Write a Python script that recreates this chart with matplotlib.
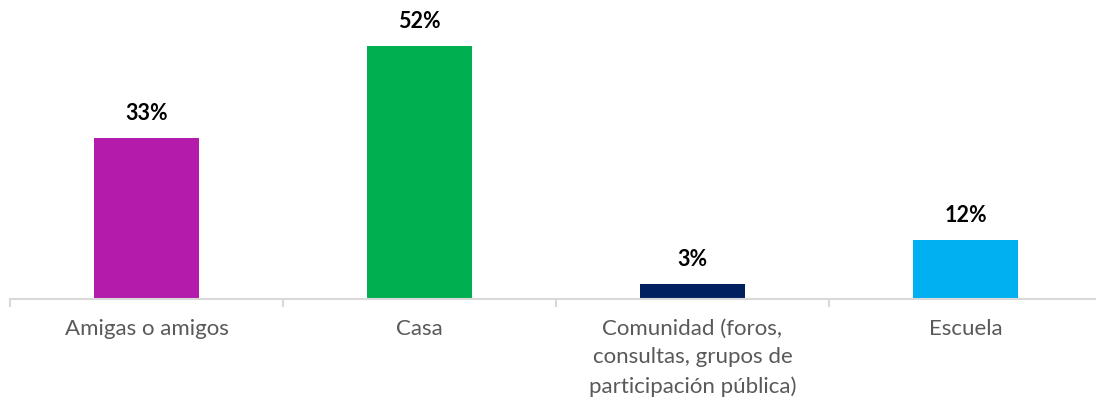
import matplotlib
matplotlib.use("Agg")
import matplotlib.pyplot as plt

categories = ["Amigas o amigos", "Casa",
              "Comunidad (foros,\nconsultas, grupos de\nparticipación pública)", "Escuela"]
values = [33, 52, 3, 12]
labels = ["33%", "52%", "3%", "12%"]
colors = ["#B41BAB", "#00B050", "#002060", "#00B0F0"]

plt.rcParams['font.family'] = ['Lato', 'DejaVu Sans']

W, H = 1096, 402
fig = plt.figure(figsize=(W / 100, H / 100), dpi=100)
base_px = 299.5
ax = fig.add_axes([10 / W, (H - base_px) / H, 1092 / W, base_px / H])

x = list(range(len(categories)))
bars = ax.bar(x, values, width=0.385, color=colors, zorder=2)

ax.set_xlim(-0.5, len(categories) - 0.5)
ax.set_ylim(0, base_px / ((base_px - 47) / 52))

for b, lab in zip(bars, labels):
    ax.annotate(lab, (b.get_x() + b.get_width() / 2, b.get_height()),
                xytext=(0, 11), textcoords="offset points",
                ha="center", va="bottom", fontsize=15.5, fontweight="bold",
                color="black")

for s in ["top", "right", "left"]:
    ax.spines[s].set_visible(False)
ax.spines["bottom"].set_color("#D9D9D9")
ax.spines["bottom"].set_linewidth(1.5)
ax.set_yticks([])

# category labels between boundary ticks
ax.set_xticks([i - 0.5 for i in range(len(categories) + 1)], minor=False)
ax.set_xticklabels([])
ax.tick_params(axis="x", which="major", length=6, width=1.5, color="#D9D9D9")
ax.set_xticks(x, minor=True)
ax.set_xticklabels(categories, minor=True, fontsize=16, color="#595959",
                   linespacing=1.53, va="top")
ax.tick_params(axis="x", which="minor", length=0, pad=14)

fig.savefig("out.png", dpi=100)
